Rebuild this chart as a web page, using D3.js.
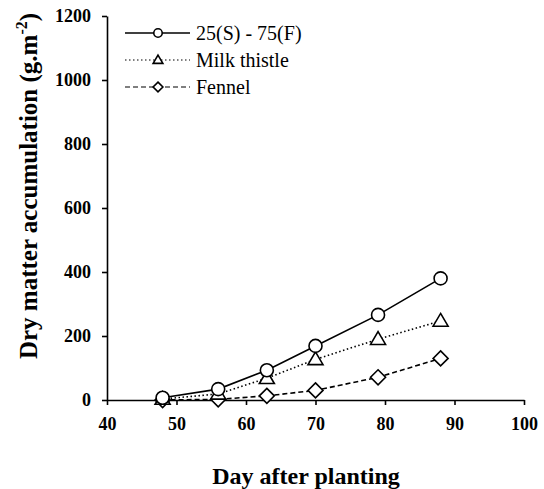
<!DOCTYPE html>
<html><head><meta charset="utf-8">
<script src="https://cdn.jsdelivr.net/npm/d3@7/dist/d3.min.js"></script>
<style>body{margin:0;background:#fff}svg{display:block}</style>
</head><body><svg id="c" width="544" height="489"></svg>
<script>
const days = [48, 56, 63, 70, 79, 88];
const mixValues = [7, 34, 93, 169, 266, 380];
const milkValues = [3, 19, 68, 127, 190, 247];
const fennelValues = [0, 2, 13, 30, 71, 130];
const seriesNames = ["25(S) - 75(F)", "Milk thistle", "Fennel"];
const xTicks = [40, 50, 60, 70, 80, 90, 100];
const yTicks = [0, 200, 400, 600, 800, 1000, 1200];

const svg = d3.select("#c");
const x = d3.scaleLinear().domain([40, 100]).range([107, 524]);
const y = d3.scaleLinear().domain([0, 1200]).range([400, 16]);
const serif = "'Liberation Serif', serif";

const xAxis = svg.append("g").attr("transform", "translate(0,400)")
  .call(d3.axisBottom(x).tickValues(xTicks).tickFormat(d3.format("d")).tickSize(5).tickSizeOuter(0).tickPadding(11));
const yAxis = svg.append("g").attr("transform", "translate(107,0)")
  .call(d3.axisLeft(y).tickValues(yTicks).tickFormat(d3.format("d")).tickSize(5).tickSizeOuter(0).tickPadding(11));
[xAxis, yAxis].forEach(a => {
  a.attr("font-family", null).attr("font-size", null);
  a.selectAll("path,line").attr("stroke", "#000").attr("stroke-width", 1.6);
  a.selectAll("text").style("font-family", serif).style("font-size", "18px").style("font-weight", "bold").attr("fill", "#000");
});
xAxis.selectAll("text").attr("dy", "0.75em");

svg.append("text").attr("x", 306).attr("y", 484).attr("text-anchor", "middle")
  .style("font-family", serif).style("font-size", "24px").style("font-weight", "bold").text("Day after planting");
const yl = svg.append("text").attr("transform", "translate(37,186) rotate(-90)").attr("text-anchor", "middle")
  .style("font-family", serif).style("font-size", "25px").style("font-weight", "bold");
yl.append("tspan").text("Dry matter accumulation (g.m");
yl.append("tspan").style("font-size", "16px").attr("dy", -10).text("-2");
yl.append("tspan").attr("dy", 10).text(")");

const series = [
  {name: seriesNames[0], vals: mixValues, dash: null, marker: "circle"},
  {name: seriesNames[1], vals: milkValues, dash: "1.5,2.5", marker: "triangle"},
  {name: seriesNames[2], vals: fennelValues, dash: "5,3", marker: "diamond"}
];
function drawMarker(g, type, cx, cy, s) {
  if (type === "circle") {
    g.append("circle").attr("cx", cx).attr("cy", cy).attr("r", 6.5*s)
      .attr("fill", "#fff").attr("stroke", "#000").attr("stroke-width", 1.6);
  } else if (type === "triangle") {
    const h = 7.5*s;
    g.append("path").attr("d", `M${cx},${cy-h}L${cx+h},${cy+h*0.7}L${cx-h},${cy+h*0.7}Z`)
      .attr("fill", "#fff").attr("stroke", "#000").attr("stroke-width", 1.6);
  } else {
    const h = 7.5*s;
    g.append("path").attr("d", `M${cx},${cy-h}L${cx+h},${cy}L${cx},${cy+h}L${cx-h},${cy}Z`)
      .attr("fill", "#fff").attr("stroke", "#000").attr("stroke-width", 1.6);
  }
}
const line = d3.line().x(d => x(d[0])).y(d => y(d[1]));
series.slice().reverse().forEach(s => {
  const pts = days.map((d, i) => [d, s.vals[i]]);
  const g = svg.append("g");
  g.append("path").attr("d", line(pts)).attr("fill", "none").attr("stroke", "#000")
    .attr("stroke-width", 1.6).attr("stroke-dasharray", s.dash);
  pts.forEach(p => drawMarker(g, s.marker, x(p[0]), y(p[1]), 1));
});

const legY = [33, 60, 87];
series.forEach((s, i) => {
  const g = svg.append("g");
  g.append("line").attr("x1", 125).attr("x2", 190).attr("y1", legY[i]).attr("y2", legY[i])
    .attr("stroke", "#000").attr("stroke-width", s.dash ? 1.2 : 1.6).attr("stroke-dasharray", s.dash);
  drawMarker(g, s.marker, 158, legY[i], 0.65);
  g.append("text").attr("x", 196).attr("y", legY[i]).attr("dy", "0.33em")
    .style("font-family", serif).style("font-size", "20px").text(s.name);
});
</script></body></html>
